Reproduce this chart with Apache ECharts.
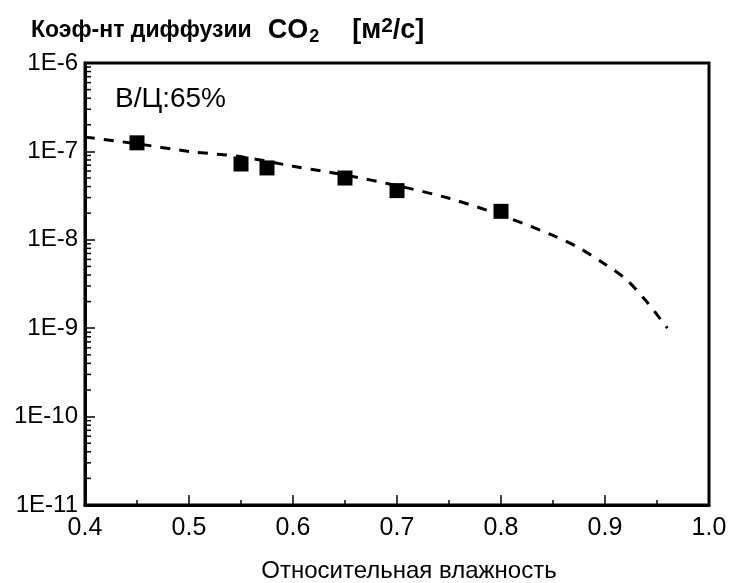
<!DOCTYPE html>
<html>
<head>
<meta charset="utf-8">
<script src="https://cdn.jsdelivr.net/npm/echarts@6/dist/echarts.min.js"></script>
<style>html,body{margin:0;padding:0;background:#fff}#c{width:731px;height:583px}</style>
</head>
<body>
<div id="c"></div>
<script>
// measured points
var pointX = [0.45, 0.55, 0.575, 0.65, 0.70, 0.80];
var pointY = [1.25e-7, 7.2e-8, 6.5e-8, 5.0e-8, 3.6e-8, 2.1e-8];
// dashed fitted curve
var curveX = [0.40, 0.45, 0.50, 0.55, 0.60, 0.65, 0.70, 0.75, 0.80, 0.85, 0.875, 0.90, 0.92, 0.94, 0.96];
var curveY = [1.45e-7, 1.22e-7, 1.0e-7, 8.7e-8, 6.8e-8, 5.4e-8, 4.1e-8, 2.95e-8, 1.9e-8, 1.12e-8, 8.1e-9, 5.3e-9, 3.6e-9, 2.0e-9, 1.0e-9];
// log minor ticks
var minorFactors = [2, 3, 4, 5, 6, 7, 8, 9];
var decades = [1e-11, 1e-10, 1e-9, 1e-8, 1e-7];
var xTickLabels = ['0.4', '0.5', '0.6', '0.7', '0.8', '0.9', '1.0'];
var yTickLabels = ['1E-11', '1E-10', '1E-9', '1E-8', '1E-7', '1E-6'];

var minorData = [];
decades.forEach(function (d) { minorFactors.forEach(function (f) { minorData.push([0.4, d * f]); }); });

var FONT = '"Liberation Sans", Arial, sans-serif';
var chart = echarts.init(document.getElementById('c'), null, {renderer: 'canvas'});
chart.setOption({
  animation: false,
  backgroundColor: '#fff',
  title: {
    left: 26, top: 11,
    text: '{b|Коэф-нт диффузии}{co|CO}{sub|2}{br|[м}{sup|2}{b2|/с]}',
    textStyle: {
      rich: {
        b: {fontFamily: FONT, fontSize: 23, fontWeight: 'bold', color: '#000', lineHeight: 30, verticalAlign: 'middle'},
        co: {fontFamily: FONT, fontSize: 27, fontWeight: 'bold', color: '#000', lineHeight: 30, verticalAlign: 'middle', padding: [0, 0, 0, 16]},
        sub: {fontFamily: FONT, fontSize: 18, fontWeight: 'bold', color: '#000', lineHeight: 18, verticalAlign: 'bottom', padding: [0, 0, 0, 1]},
        br: {fontFamily: FONT, fontSize: 27, fontWeight: 'bold', color: '#000', lineHeight: 30, verticalAlign: 'middle', padding: [0, 0, 0, 33]},
        sup: {fontFamily: FONT, fontSize: 21, fontWeight: 'bold', color: '#000', lineHeight: 21, verticalAlign: 'top'},
        b2: {fontFamily: FONT, fontSize: 27, fontWeight: 'bold', color: '#000', lineHeight: 30, verticalAlign: 'middle'}
      }
    }
  },
  graphic: [{
    type: 'text', left: 115, top: 85,
    style: {text: 'В/Ц:65%', font: '28px ' + FONT, fill: '#000'}
  }],
  grid: {left: 85, right: 22, top: 63, bottom: 78, outerBoundsMode: 'none', containLabel: false,
    show: true, borderColor: '#000', borderWidth: 3, backgroundColor: 'transparent'},
  xAxis: {
    type: 'value', min: 0.4, max: 1.0, interval: 0.1,
    axisLine: {show: true, lineStyle: {color: '#000', width: 3}},
    axisTick: {show: true, inside: true, length: 10, lineStyle: {color: '#000', width: 1.5}},
    minorTick: {show: true, splitNumber: 2, length: 5, lineStyle: {color: '#000', width: 1.5}},
    splitLine: {show: false},
    axisLabel: {
      margin: 11, fontFamily: FONT, fontSize: 25, color: '#000',
      formatter: function (v) { return xTickLabels[Math.round((v - 0.4) * 10)]; }
    },
    name: 'Относительная влажность', nameLocation: 'middle', nameGap: 54,
    nameTextStyle: {fontFamily: FONT, fontSize: 24, color: '#000', padding: [0, 0, 0, 24]}
  },
  yAxis: {
    type: 'log', logBase: 10, min: 1e-11, max: 1e-6,
    axisLine: {show: true, lineStyle: {color: '#000', width: 3}},
    axisTick: {show: true, inside: true, length: 10, lineStyle: {color: '#000', width: 1.5}},
    splitLine: {show: false},
    axisLabel: {
      margin: 7, fontFamily: FONT, fontSize: 24, color: '#000',
      formatter: function (v) { return yTickLabels[Math.round(Math.log10(v)) + 11]; }
    }
  },
  series: [
    {
      type: 'custom', silent: true, clip: false, z: 5,
      data: minorData,
      renderItem: function (params, api) {
        var p = api.coord([api.value(0), api.value(1)]);
        return {type: 'line', shape: {x1: p[0], y1: p[1], x2: p[0] + 6, y2: p[1]},
          style: {stroke: '#000', lineWidth: 1.5}};
      }
    },
    {
      type: 'line', smooth: 0.3, symbol: 'none', z: 3,
      data: curveX.map(function (x, i) { return [x, curveY[i]]; }),
      lineStyle: {color: '#000', width: 3, type: [10, 9]}
    },
    {
      type: 'scatter', symbol: 'rect', symbolSize: 15, z: 4,
      data: pointX.map(function (x, i) { return [x, pointY[i]]; }),
      itemStyle: {color: '#000', opacity: 1}
    }
  ]
});
</script>
</body>
</html>
